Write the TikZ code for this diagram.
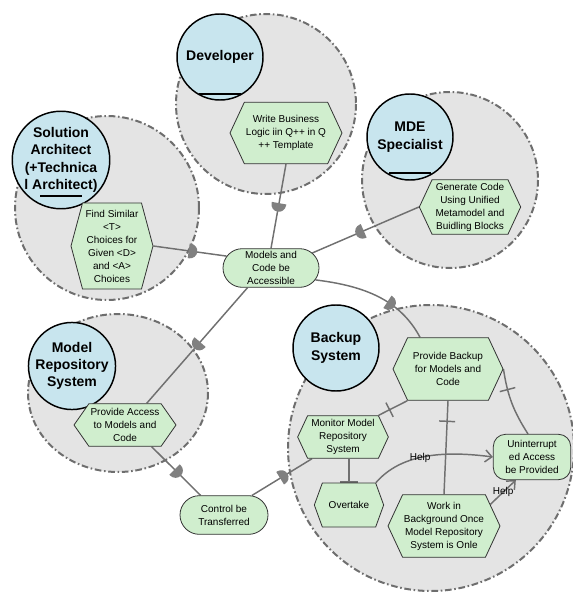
\documentclass[tikz,border=0pt]{standalone}
\usepackage{fontspec}
\setmainfont{Liberation Sans}
\usetikzlibrary{shapes.symbols,shapes.misc,arrows.meta,decorations.markings,calc}

\pgfdeclarelayer{bound}
\pgfdeclarelayer{links}
\pgfsetlayers{bound,links,main}

\definecolor{boundfill}{RGB}{228,228,228}
\definecolor{boundline}{RGB}{110,110,110}
\definecolor{actorfill}{RGB}{200,229,238}
\definecolor{taskfill}{RGB}{208,238,206}
\definecolor{linkgrey}{RGB}{112,112,112}
\definecolor{depgrey}{RGB}{128,128,128}

\tikzset{every picture/.style={line width=0.75pt},
  boundary/.style={fill=boundfill, draw=boundline, line width=1.5pt, dash pattern={on 5pt off 2pt on 1.2pt off 2pt}},
  actor/.style={circle, draw=black, line width=1.1pt, fill=actorfill, minimum size=64.5pt, inner sep=0pt, align=center, font=\fontsize{10.5}{13}\selectfont\bfseries},
  agentline/.style={line width=1.8pt},
  task/.style={signal, signal to=east and west, signal pointer angle=130, draw=black!80, line width=0.6pt, fill=taskfill, inner sep=1pt, align=center, font=\fontsize{7.5}{9.75}\selectfont},
  goal/.style={rounded rectangle, draw=black!80, line width=0.6pt, fill=taskfill, inner sep=1pt, align=center, font=\fontsize{7.5}{9.75}\selectfont},
  softgoal/.style={rectangle, rounded corners=9pt, draw=black!80, line width=0.6pt, fill=taskfill, inner sep=1pt, align=center, font=\fontsize{7.5}{9.75}\selectfont},
  link/.style={draw=linkgrey, line width=1.1pt},
  dep/.style={postaction={decorate, decoration={markings, mark=at position #1 with {\fill[depgrey] (-1pt,-5.5pt) -- (0,-5.5pt) arc (-90:90:5.5pt) -- (-1pt,5.5pt) -- cycle;}}}},
  decomp/.style={postaction={decorate, decoration={markings, mark=at position #1 with {\draw[linkgrey, line width=1.1pt] (0,-6pt) -- (0,6pt);}}}},
  help/.style={link, -{Straight Barb[length=5pt,width=9pt]}},
  helplabel/.style={font=\fontsize{7.5}{9}\selectfont, inner sep=0.5pt}
}

\begin{document}
\begin{tikzpicture}[x=0.75pt,y=0.75pt,yscale=-1,xscale=1]
\useasboundingbox (0,0) rectangle (573,595);

%Shape: Boundaries
\begin{pgfonlayer}{bound}
\draw[boundary] (266,104) circle (90);
\draw[boundary] (107,208) circle (92);
\draw[boundary] (450,180) circle (88);
\draw[boundary] (118,393) ellipse (90 and 79);
\draw[boundary] (431,448) circle (143);
\end{pgfonlayer}

%Shape: Actors
\node[actor] (developer) at (220,57) {Developer};
\node[actor] (solarch) at (61,160) {Solution\\Architect\\(+Technica\\l Architect)};
\node[actor] (mde) at (410,137) {MDE\\Specialist};
\node[actor] (modelrepo) at (72,366) {Model\\Repository\\System};
\node[actor] (backupsys) at (336,348) {Backup\\System};
\draw[agentline] ($(developer)+(-21,37)$) -- ($(developer)+(21,37)$);
\draw[agentline] ($(solarch)+(-21,36)$) -- ($(solarch)+(21,36)$);
\draw[agentline] ($(mde)+(-21,36)$) -- ($(mde)+(21,36)$);

%Shape: Tasks
\node[task, minimum width=84pt, minimum height=46pt] (writelogic) at (286,133) {Write Business\\Logic iin Q++ in Q\\++ Template};
\node[task, signal pointer angle=150, minimum width=61.5pt, minimum height=64.5pt] (findsimilar) at (112,246) {Find Similar\\<T>\\Choices for\\Given <D>\\and <A>\\Choices};
\node[task, minimum width=76pt, minimum height=41pt] (gencode) at (470,207) {Generate Code\\Using Unified\\Metamodel and\\Buidling Blocks};
\node[task, signal pointer angle=110, minimum width=76.5pt, minimum height=32pt] (provaccess) at (125,425) {Provide Access\\to Models and\\Code};
\node[task, minimum width=82.5pt, minimum height=47pt] (provbackup) at (448,369) {Provide Backup\\for Models and\\Code};
\node[task, minimum width=68pt, minimum height=32pt] (monitor) at (343,437) {Monitor Model\\Repository\\System};
\node[task, signal pointer angle=140, minimum width=52pt, minimum height=33pt] (overtake) at (349,505) {Overtake};
\node[task, minimum width=84pt, minimum height=47pt] (workbg) at (444,526) {Work in\\Background Once\\Model Repository\\System is Onle};

%Shape: Goals
\node[goal, minimum width=74pt, minimum height=29pt] (modelsacc) at (271,268) {Models and\\Code be\\Accessible};
\node[goal, minimum width=68pt, minimum height=29pt] (ctrltrans) at (224,515) {Control be\\Transferred};
\node[softgoal, minimum width=58pt, minimum height=34pt] (uninterrupt) at (532,457) {Uninterrupt\\ed Access\\be Provided};

%Straight Lines: dependencies
\begin{pgfonlayer}{links}
\draw[link, dep=0.48] (writelogic.south) -- (modelsacc.north);
\draw[link, dep=0.5] (findsimilar.east) -- (modelsacc.165);
\draw[link, dep=0.53] (gencode.west) -- (modelsacc.20);
\draw[link, dep=0.48] (modelsacc.220) -- (provaccess.45);
\draw[link, dep=0.62] (modelsacc.-15) .. controls (365,286) and (400,300) .. ([xshift=-21pt]provbackup.north);
\draw[link, dep=0.49] ([xshift=20pt]provaccess.south) -- (ctrltrans.140);
\draw[link, dep=0.49] (ctrltrans.35) -- (monitor.215);
%Straight Lines: decompositions
\draw[link, decomp=0.62] (provbackup.south west) -- (monitor.north east);
\draw[link, decomp=0.22] (provbackup.south) -- (workbg.north);
\draw[link, decomp=0.3] (provbackup.east) to[bend left=12] ([xshift=-3pt]uninterrupt.north);
\draw[link, -{Bar[width=13pt]}] (overtake.north |- monitor.south) -- (overtake.north);
%Straight Lines: contributions
\draw[help] (overtake.north east) .. controls (400,455) and (440,450) .. node[helplabel, pos=0.47] {Help} (uninterrupt.west);
\draw[help] (workbg.25) -- node[helplabel] {Help} (uninterrupt.235);
\end{pgfonlayer}

\end{tikzpicture}
\end{document}
